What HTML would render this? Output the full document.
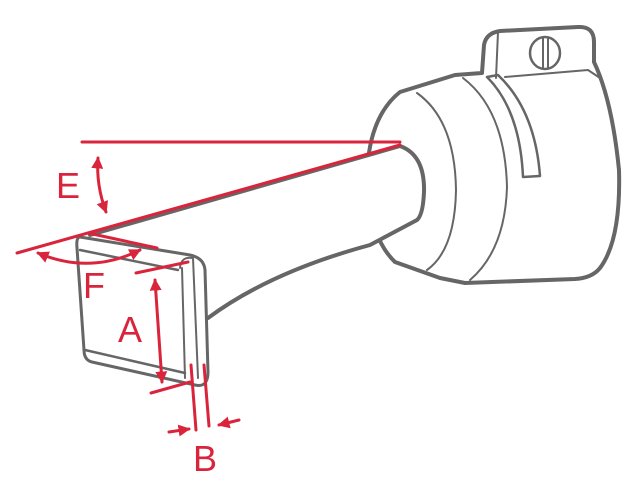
<!DOCTYPE html>
<html><head><style>html,body{margin:0;padding:0;background:#fff}svg{display:block}</style></head><body>
<svg width="640" height="480" viewBox="0 0 640 480" xmlns="http://www.w3.org/2000/svg">
<defs>
<marker id="ah" markerWidth="4" markerHeight="4" refX="3.5" refY="2" orient="auto-start-reverse" markerUnits="strokeWidth"><path d="M0,0 L4,2 L0,4 Z" fill="#d9243c"/></marker>
</defs>
<g fill="none" stroke="#666" stroke-linejoin="round" stroke-linecap="round">
<path d="M400,92 L455,75 L482,73 L484,45 Q486,33 500,31 L578,27 Q594,26 594,42 L594,62 Q612,100 619,170 Q621,240 600,268 Q592,278 575,279 L465,283 L440,278 L395,262 Q372,240 367,190 Q365,120 400,92 Z" stroke-width="4" fill="#fff"/>
<path d="M417,93 Q455,120 456,190 Q455,250 427,270" stroke-width="2"/>
<path d="M463,78 Q505,110 507,187 Q505,250 470,280" stroke-width="2"/>
<path d="M487,77 Q520,110 523,177 L540,176 Q535,110 498,75 Z" stroke-width="2.5" fill="#fff"/>
<path d="M498,32 L496,78" stroke-width="2"/>
<path d="M505,77 L588,70 L600,78" stroke-width="2"/>
<ellipse cx="545" cy="53" rx="15" ry="16" stroke-width="2.5" fill="#fff"/>
<line x1="543" y1="38" x2="543" y2="68" stroke-width="2"/>
<line x1="548" y1="38" x2="548" y2="68" stroke-width="2"/>
<path d="M90,235 L400,146 Q425,155 424,192 Q423,215 417,220 L370,245 Q270,272 208,318" stroke-width="4" fill="#fff"/>
<path d="M80,237 L190,255 Q204,258 205,270 L208,372 Q208,388 195,385 L92,362 Q84,360 84,350 L77,248 Q76,237 80,237 Z" stroke-width="3" fill="#fff"/>
<path d="M80,250 L178,270" stroke-width="2.5"/>
<path d="M85,350 L185,373" stroke-width="2.5"/>
<path d="M180,268 Q181,256 193,258 L198,378" stroke-width="2"/>
<path d="M182,268 L185,378" stroke-width="2"/>
</g>
<g stroke="#d9243c" stroke-width="3" fill="none" stroke-linecap="round">
<line x1="82" y1="142" x2="400" y2="142"/>
<line x1="17" y1="253" x2="400" y2="145"/>
<path d="M98,158 Q96,185 106,212" marker-start="url(#ah)" marker-end="url(#ah)"/>
<line x1="88" y1="233" x2="157" y2="248"/>
<path d="M38,253 Q90,275 140,250" marker-start="url(#ah)" marker-end="url(#ah)"/>
<line x1="136" y1="273" x2="188" y2="262"/>
<line x1="155" y1="280" x2="162" y2="382" marker-start="url(#ah)" marker-end="url(#ah)"/>
<line x1="151" y1="393" x2="190" y2="382"/>
<line x1="191" y1="365" x2="196" y2="430"/>
<line x1="204" y1="365" x2="209" y2="426"/>
<line x1="169" y1="432" x2="189" y2="429" marker-end="url(#ah)"/>
<line x1="239" y1="420" x2="219" y2="425" marker-end="url(#ah)"/>
</g>
<g fill="#d9243c" font-family="Liberation Sans, sans-serif" font-size="36">
<text x="56" y="198">E</text>
<text x="83" y="298">F</text>
<text x="118" y="342">A</text>
<text x="193" y="471">B</text>
</g>
</svg>
</body></html>
